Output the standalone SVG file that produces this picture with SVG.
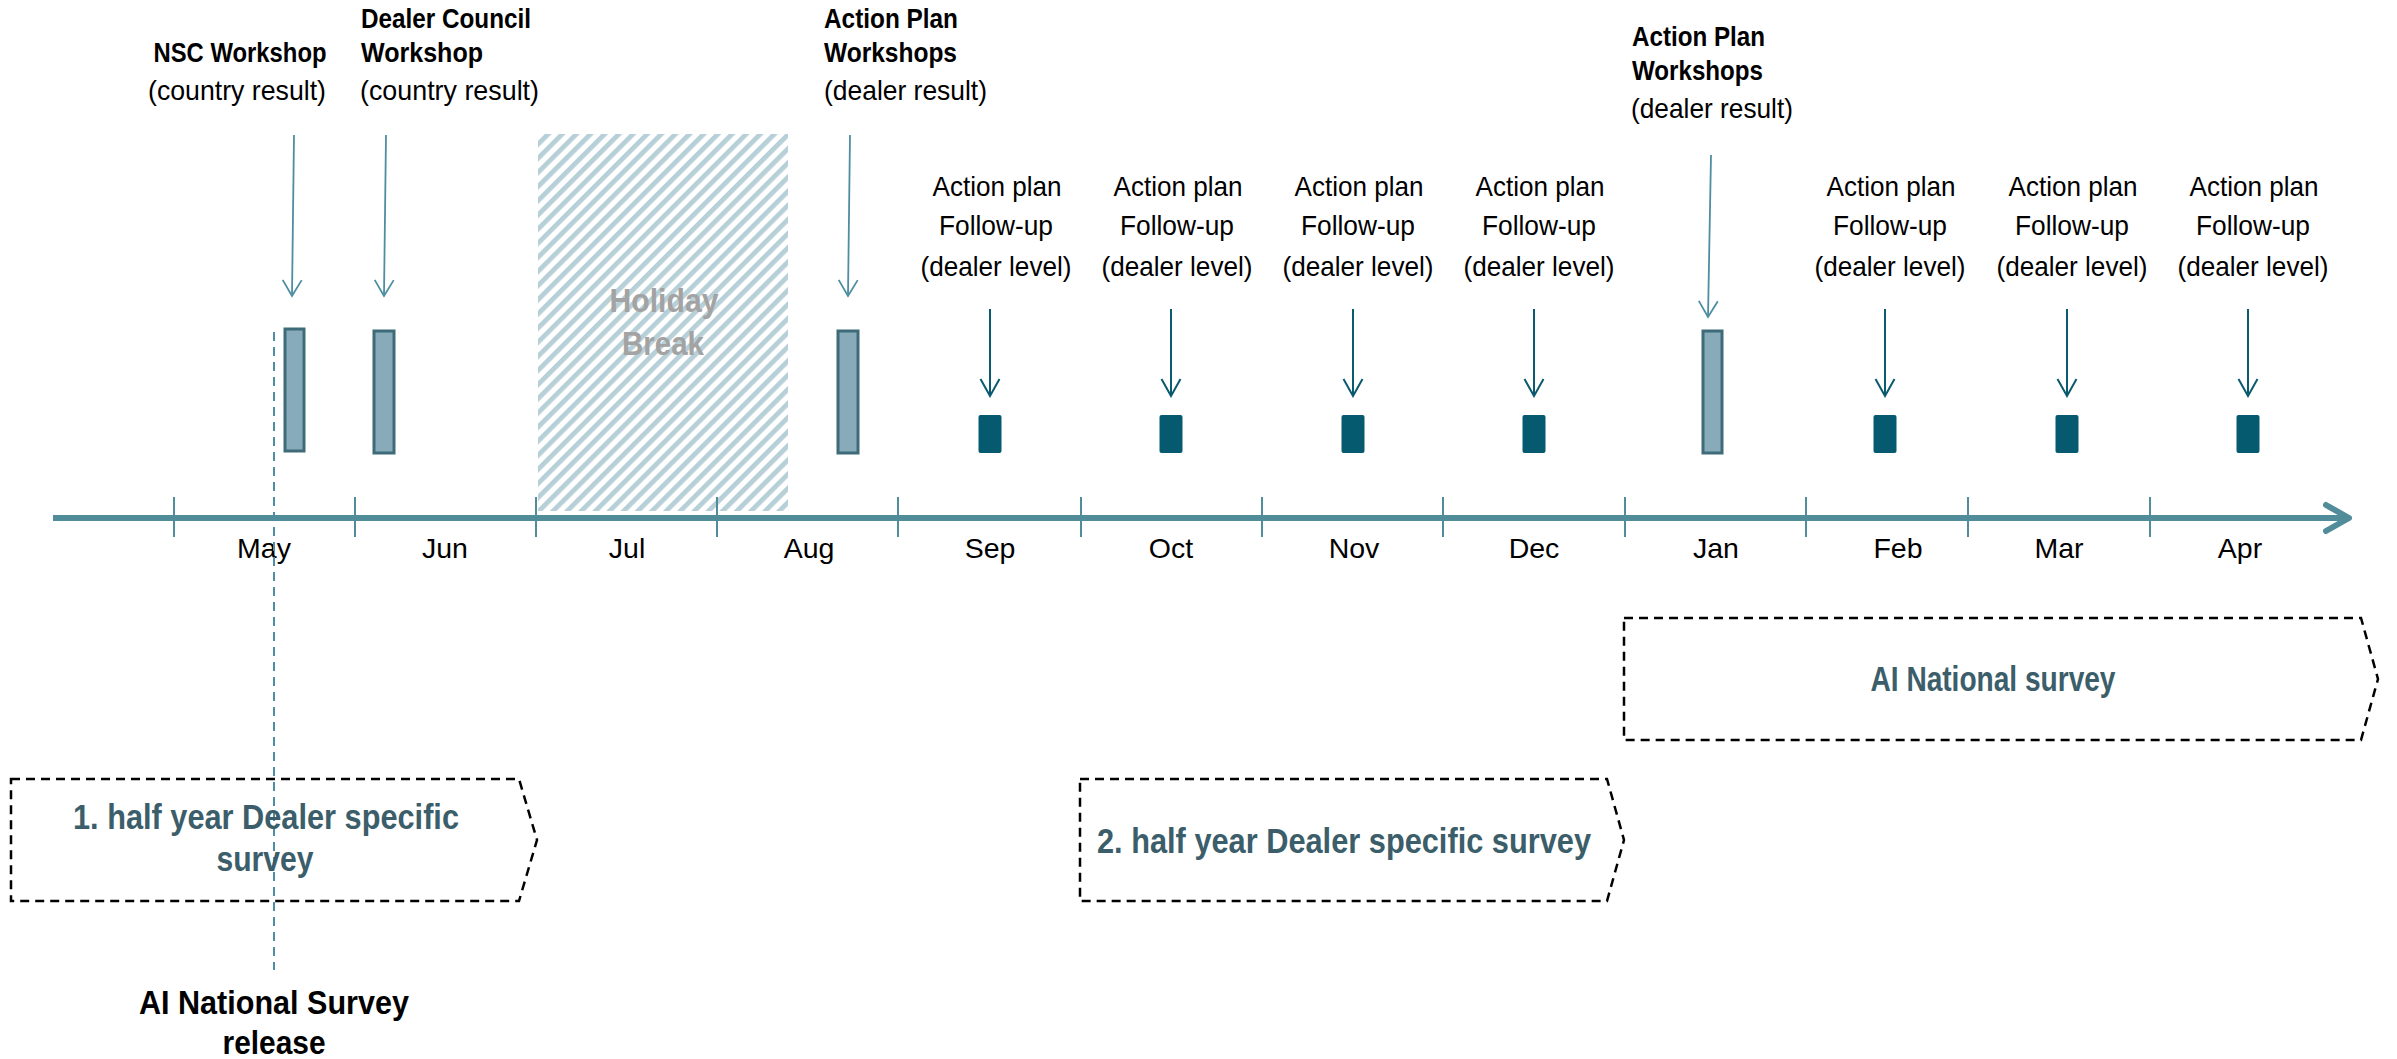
<svg xmlns="http://www.w3.org/2000/svg" width="2397" height="1059" viewBox="0 0 2397 1059">
  <defs>
    <style>
      text { font-family: "Liberation Sans Narrow", "Liberation Sans", Arial, sans-serif; fill: #000; }
      .lbl { font-size: 28.5px; }
      .b { font-weight: bold; }
      .mid { text-anchor: middle; }
      .month { font-size: 28.5px; text-anchor: middle; }
      .survey { font-size: 35px; font-weight: bold; fill: #3b5e6a; text-anchor: middle; }
      .holiday { font-size: 33px; font-weight: bold; fill: #a3a3a3; text-anchor: middle; }
      .axis { stroke: #518c9a; fill: none; }
      .tick { stroke: #518c9a; stroke-width: 2; }
      .ws-bar { fill: #87abb9; stroke: #3f6b79; stroke-width: 3; }
      .fu-box { fill: #065a6f; }
      .arr-light { stroke: #4f8ea2; stroke-width: 1.8; fill: none; marker-end: url(#head-light); }
      .arr-dark { stroke: #0b5a70; stroke-width: 2; fill: none; marker-end: url(#head-dark); }
      .frame { fill: none; stroke: #000; stroke-width: 2.5; stroke-dasharray: 9 6; }
      .release-line { stroke: #4f8ea2; stroke-width: 2; stroke-dasharray: 9 6; }
    </style>
    <marker id="head-light" viewBox="-18 -11 20 22" refX="0" refY="0" markerWidth="20" markerHeight="22" markerUnits="userSpaceOnUse" orient="auto">
      <path d="M-16,-9.5 L0,0 L-16,9.5" fill="none" stroke="#4f8ea2" stroke-width="1.8"/>
    </marker>
    <marker id="head-dark" viewBox="-18 -11 20 22" refX="0" refY="0" markerWidth="20" markerHeight="22" markerUnits="userSpaceOnUse" orient="auto">
      <path d="M-17,-9.5 L0,0 L-17,9.5" fill="none" stroke="#0b5a70" stroke-width="2"/>
    </marker>
    <pattern id="hatch" patternUnits="userSpaceOnUse" width="10" height="10" patternTransform="rotate(45)">
      <rect x="0" y="0" width="4.8" height="10" fill="#b7cfd7"/>
    </pattern>
  </defs>

  <rect width="2397" height="1059" fill="#fff"/>

  <!-- holiday period -->
  <g id="holiday-break">
    <rect x="538" y="134" width="250" height="377" fill="url(#hatch)"/>
    <text class="holiday" x="664" y="312" textLength="109" lengthAdjust="spacingAndGlyphs">Holiday</text>
    <text class="holiday" x="663" y="355" textLength="82" lengthAdjust="spacingAndGlyphs">Break</text>
  </g>

  <!-- time axis -->
  <g id="timeline">
    <line class="axis" x1="53" y1="518" x2="2346" y2="518" stroke-width="6"/>
    <polyline class="axis" points="2326,505 2349,518 2326,531" stroke-width="6" stroke-linecap="round" stroke-linejoin="round"/>
    <line class="tick" x1="174" y1="497" x2="174" y2="537"/>
    <line class="tick" x1="355" y1="497" x2="355" y2="537"/>
    <line class="tick" x1="536" y1="497" x2="536" y2="537"/>
    <line class="tick" x1="717" y1="497" x2="717" y2="537"/>
    <line class="tick" x1="898" y1="497" x2="898" y2="537"/>
    <line class="tick" x1="1081" y1="497" x2="1081" y2="537"/>
    <line class="tick" x1="1262" y1="497" x2="1262" y2="537"/>
    <line class="tick" x1="1443" y1="497" x2="1443" y2="537"/>
    <line class="tick" x1="1625" y1="497" x2="1625" y2="537"/>
    <line class="tick" x1="1806" y1="497" x2="1806" y2="537"/>
    <line class="tick" x1="1968" y1="497" x2="1968" y2="537"/>
    <line class="tick" x1="2150" y1="497" x2="2150" y2="537"/>
    <text class="month" x="264" y="558">May</text>
    <text class="month" x="445" y="558">Jun</text>
    <text class="month" x="627" y="558">Jul</text>
    <text class="month" x="809" y="558">Aug</text>
    <text class="month" x="990" y="558">Sep</text>
    <text class="month" x="1171" y="558">Oct</text>
    <text class="month" x="1354" y="558">Nov</text>
    <text class="month" x="1534" y="558">Dec</text>
    <text class="month" x="1716" y="558">Jan</text>
    <text class="month" x="1898" y="558">Feb</text>
    <text class="month" x="2059" y="558">Mar</text>
    <text class="month" x="2240" y="558">Apr</text>
  </g>

  <!-- survey release marker -->
  <g id="release">
    <line class="release-line" x1="274" y1="332" x2="274" y2="970"/>
    <text class="lbl b mid" x="274" y="1014" style="font-size:33px" textLength="270" lengthAdjust="spacingAndGlyphs">AI National Survey</text>
    <text class="lbl b mid" x="274" y="1054" style="font-size:33px" textLength="103" lengthAdjust="spacingAndGlyphs">release</text>
  </g>

  <!-- workshops -->
  <g id="nsc-workshop">
    <text class="lbl b mid" x="240" y="62" textLength="173" lengthAdjust="spacingAndGlyphs">NSC Workshop</text>
    <text class="lbl mid" x="237" y="100" textLength="178" lengthAdjust="spacingAndGlyphs">(country result)</text>
    <rect class="ws-bar" x="285" y="329" width="19" height="122"/>
  </g>
  <g id="dealer-council-workshop">
    <text class="lbl b" x="361" y="28" textLength="170" lengthAdjust="spacingAndGlyphs">Dealer Council</text>
    <text class="lbl b" x="361" y="62" textLength="122" lengthAdjust="spacingAndGlyphs">Workshop</text>
    <text class="lbl" x="360" y="100" textLength="179" lengthAdjust="spacingAndGlyphs">(country result)</text>
    <rect class="ws-bar" x="374" y="331" width="20" height="122"/>
  </g>
  <g id="action-plan-workshops-aug">
    <text class="lbl b" x="824" y="28" textLength="134" lengthAdjust="spacingAndGlyphs">Action Plan</text>
    <text class="lbl b" x="824" y="62" textLength="133" lengthAdjust="spacingAndGlyphs">Workshops</text>
    <text class="lbl" x="824" y="100" textLength="163" lengthAdjust="spacingAndGlyphs">(dealer result)</text>
    <rect class="ws-bar" x="838" y="331" width="20" height="122"/>
  </g>
  <g id="action-plan-workshops-jan">
    <text class="lbl b" x="1632" y="46" textLength="133" lengthAdjust="spacingAndGlyphs">Action Plan</text>
    <text class="lbl b" x="1632" y="80" textLength="131" lengthAdjust="spacingAndGlyphs">Workshops</text>
    <text class="lbl" x="1631" y="118" textLength="162" lengthAdjust="spacingAndGlyphs">(dealer result)</text>
    <rect class="ws-bar" x="1703" y="331" width="19" height="122"/>
  </g>

  <!-- monthly follow-ups -->
  <g id="follow-up-sep">
    <text class="lbl mid" x="997" y="196" textLength="129" lengthAdjust="spacingAndGlyphs">Action plan</text>
    <text class="lbl mid" x="996" y="235" textLength="114" lengthAdjust="spacingAndGlyphs">Follow-up</text>
    <text class="lbl mid" x="996" y="276" textLength="151" lengthAdjust="spacingAndGlyphs">(dealer level)</text>
    <rect class="fu-box" x="978.5" y="415" width="23" height="38" rx="2"/>
  </g>
  <g id="follow-up-oct">
    <text class="lbl mid" x="1178" y="196" textLength="129" lengthAdjust="spacingAndGlyphs">Action plan</text>
    <text class="lbl mid" x="1177" y="235" textLength="114" lengthAdjust="spacingAndGlyphs">Follow-up</text>
    <text class="lbl mid" x="1177" y="276" textLength="151" lengthAdjust="spacingAndGlyphs">(dealer level)</text>
    <rect class="fu-box" x="1159.5" y="415" width="23" height="38" rx="2"/>
  </g>
  <g id="follow-up-nov">
    <text class="lbl mid" x="1359" y="196" textLength="129" lengthAdjust="spacingAndGlyphs">Action plan</text>
    <text class="lbl mid" x="1358" y="235" textLength="114" lengthAdjust="spacingAndGlyphs">Follow-up</text>
    <text class="lbl mid" x="1358" y="276" textLength="151" lengthAdjust="spacingAndGlyphs">(dealer level)</text>
    <rect class="fu-box" x="1341.5" y="415" width="23" height="38" rx="2"/>
  </g>
  <g id="follow-up-dec">
    <text class="lbl mid" x="1540" y="196" textLength="129" lengthAdjust="spacingAndGlyphs">Action plan</text>
    <text class="lbl mid" x="1539" y="235" textLength="114" lengthAdjust="spacingAndGlyphs">Follow-up</text>
    <text class="lbl mid" x="1539" y="276" textLength="151" lengthAdjust="spacingAndGlyphs">(dealer level)</text>
    <rect class="fu-box" x="1522.5" y="415" width="23" height="38" rx="2"/>
  </g>
  <g id="follow-up-feb">
    <text class="lbl mid" x="1891" y="196" textLength="129" lengthAdjust="spacingAndGlyphs">Action plan</text>
    <text class="lbl mid" x="1890" y="235" textLength="114" lengthAdjust="spacingAndGlyphs">Follow-up</text>
    <text class="lbl mid" x="1890" y="276" textLength="151" lengthAdjust="spacingAndGlyphs">(dealer level)</text>
    <rect class="fu-box" x="1873.5" y="415" width="23" height="38" rx="2"/>
  </g>
  <g id="follow-up-mar">
    <text class="lbl mid" x="2073" y="196" textLength="129" lengthAdjust="spacingAndGlyphs">Action plan</text>
    <text class="lbl mid" x="2072" y="235" textLength="114" lengthAdjust="spacingAndGlyphs">Follow-up</text>
    <text class="lbl mid" x="2072" y="276" textLength="151" lengthAdjust="spacingAndGlyphs">(dealer level)</text>
    <rect class="fu-box" x="2055.5" y="415" width="23" height="38" rx="2"/>
  </g>
  <g id="follow-up-apr">
    <text class="lbl mid" x="2254" y="196" textLength="129" lengthAdjust="spacingAndGlyphs">Action plan</text>
    <text class="lbl mid" x="2253" y="235" textLength="114" lengthAdjust="spacingAndGlyphs">Follow-up</text>
    <text class="lbl mid" x="2253" y="276" textLength="151" lengthAdjust="spacingAndGlyphs">(dealer level)</text>
    <rect class="fu-box" x="2236.5" y="415" width="23" height="38" rx="2"/>
  </g>

  <!-- survey periods -->
  <g id="survey-h1">
    <path class="frame" d="M11,779 H519 L537,840 L519,901 H11 Z"/>
    <text class="survey" x="266" y="829" textLength="386" lengthAdjust="spacingAndGlyphs">1. half year Dealer specific</text>
    <text class="survey" x="265" y="871" textLength="97" lengthAdjust="spacingAndGlyphs">survey</text>
  </g>
  <g id="survey-h2">
    <path class="frame" d="M1080,779 H1607 L1624,840 L1607,901 H1080 Z"/>
    <text class="survey" x="1344" y="853" textLength="494" lengthAdjust="spacingAndGlyphs">2. half year Dealer specific survey</text>
  </g>
  <g id="survey-national">
    <path class="frame" d="M1624,618 H2361 L2378,679 L2361,740 H1624 Z"/>
    <text class="survey" x="1993" y="691" textLength="245" lengthAdjust="spacingAndGlyphs">AI National survey</text>
  </g>

  <!-- connectors -->
  <g id="connectors">
    <line class="arr-light" x1="294" y1="135" x2="292" y2="296"/>
    <line class="arr-light" x1="386" y1="135" x2="384" y2="296"/>
    <line class="arr-light" x1="850" y1="135" x2="848" y2="296"/>
    <line class="arr-light" x1="1711" y1="155" x2="1708" y2="317"/>
    <line class="arr-dark" x1="990" y1="309" x2="990" y2="396"/>
    <line class="arr-dark" x1="1171" y1="309" x2="1171" y2="396"/>
    <line class="arr-dark" x1="1353" y1="309" x2="1353" y2="396"/>
    <line class="arr-dark" x1="1534" y1="309" x2="1534" y2="396"/>
    <line class="arr-dark" x1="1885" y1="309" x2="1885" y2="396"/>
    <line class="arr-dark" x1="2067" y1="309" x2="2067" y2="396"/>
    <line class="arr-dark" x1="2248" y1="309" x2="2248" y2="396"/>
  </g>
</svg>
